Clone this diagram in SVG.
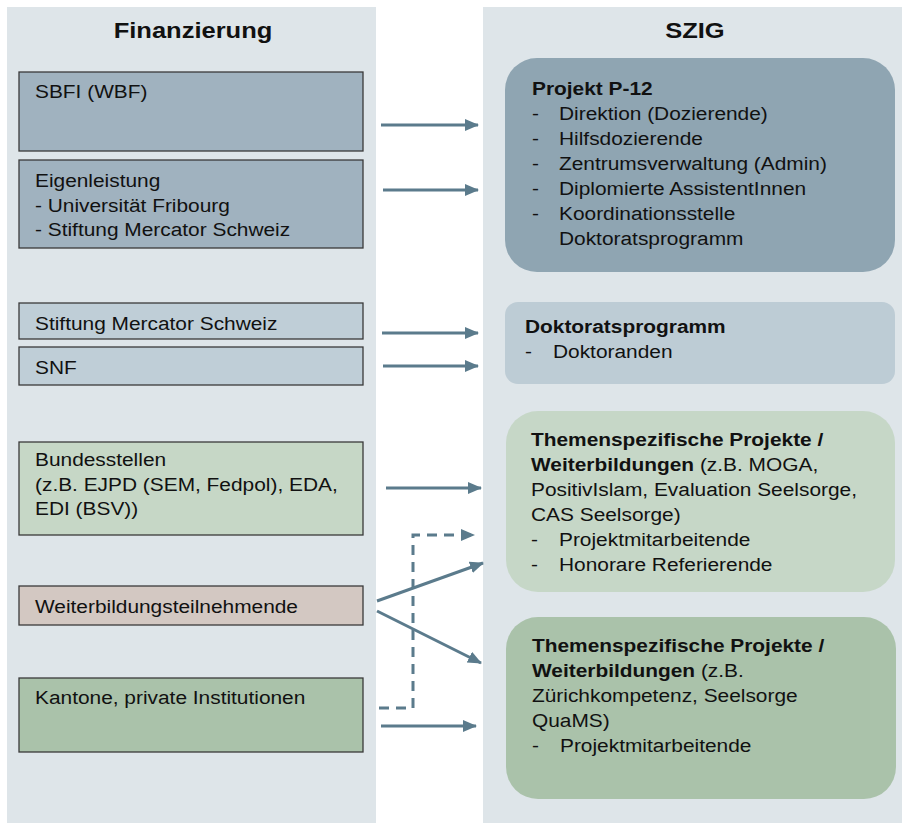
<svg xmlns="http://www.w3.org/2000/svg" width="902" height="823" viewBox="0 0 902 823">
<style>
  .panel { fill: #DEE5E9; }
  .box { stroke: #3a3a3a; stroke-width: 1.3; }
  text { font-family: "Liberation Sans", Arial, sans-serif; font-size: 18px; fill: #111; }
  .hdr { font-size: 22px; font-weight: bold; text-anchor: middle; }
  .b { font-weight: bold; }
  .conn { stroke: #5B7B8C; stroke-width: 3; fill: none; }
  .dash { stroke-dasharray: 10 7; }
</style>
<defs>
  <marker id="ah" markerUnits="userSpaceOnUse" markerWidth="16" markerHeight="14" refX="13" refY="6" orient="auto">
    <path d="M0,0 L14,6 L0,12 Z" fill="#5B7B8C"/>
  </marker>
</defs>
<rect width="902" height="823" fill="#ffffff"/>
<rect class="panel" x="7" y="7" width="369" height="816"/>
<rect class="panel" x="483" y="7" width="419" height="816"/>
<g transform="scale(1.16 1)">
  <text class="hdr" x="166.4" y="38">Finanzierung</text>
  <text class="hdr" x="599.1" y="38">SZIG</text>
</g>

<g id="sbfi">
  <rect class="box" x="19" y="72" width="344" height="79" fill="#A0B2BF"/>
  <g transform="scale(1.16 1)"><text x="30.17" y="98">SBFI (WBF)</text></g>
</g>
<g id="eigenleistung">
  <rect class="box" x="19" y="160" width="344" height="88" fill="#A0B2BF"/>
  <g transform="scale(1.16 1)">
    <text x="30.17" y="187">Eigenleistung</text>
    <text x="30.17" y="212">- Universität Fribourg</text>
    <text x="30.17" y="236">- Stiftung Mercator Schweiz</text>
  </g>
</g>
<g id="mercator">
  <rect class="box" x="19" y="303" width="344" height="36" fill="#BFCED7"/>
  <g transform="scale(1.16 1)"><text x="30.17" y="330">Stiftung Mercator Schweiz</text></g>
</g>
<g id="snf">
  <rect class="box" x="19" y="347" width="344" height="38" fill="#BFCED7"/>
  <g transform="scale(1.16 1)"><text x="30.17" y="374">SNF</text></g>
</g>
<g id="bundesstellen">
  <rect class="box" x="19" y="442" width="344" height="93" fill="#C6D7C6"/>
  <g transform="scale(1.16 1)">
    <text x="30.17" y="466">Bundesstellen</text>
    <text x="30.17" y="491">(z.B. EJPD (SEM, Fedpol), EDA,</text>
    <text x="30.17" y="515">EDI (BSV))</text>
  </g>
</g>
<g id="weiterbildungsteilnehmende">
  <rect class="box" x="19" y="586" width="344" height="39" fill="#D3C8C2"/>
  <g transform="scale(1.16 1)"><text x="30.17" y="613">Weiterbildungsteilnehmende</text></g>
</g>
<g id="kantone">
  <rect class="box" x="19" y="678" width="344" height="74" fill="#AAC2AA"/>
  <g transform="scale(1.16 1)"><text x="30.17" y="704">Kantone, private Institutionen</text></g>
</g>

<g id="projekt-p12">
  <rect x="505" y="58" width="390" height="214" rx="32" fill="#8FA5B2"/>
  <g transform="scale(1.16 1)">
    <text class="b" x="458.62" y="95">Projekt P-12</text>
    <text x="458.62" y="120">-</text><text x="481.9" y="120">Direktion (Dozierende)</text>
    <text x="458.62" y="145">-</text><text x="481.9" y="145">Hilfsdozierende</text>
    <text x="458.62" y="170">-</text><text x="481.9" y="170">Zentrumsverwaltung (Admin)</text>
    <text x="458.62" y="195">-</text><text x="481.9" y="195">Diplomierte AssistentInnen</text>
    <text x="458.62" y="220">-</text><text x="481.9" y="220">Koordinationsstelle</text>
    <text x="481.9" y="245">Doktoratsprogramm</text>
  </g>
</g>
<g id="doktoratsprogramm">
  <rect x="505" y="302" width="390" height="82" rx="13" fill="#BDCCD5"/>
  <g transform="scale(1.16 1)">
    <text class="b" x="452.59" y="333">Doktoratsprogramm</text>
    <text x="452.59" y="358">-</text><text x="476.72" y="358">Doktoranden</text>
  </g>
</g>
<g id="themen1">
  <rect x="506" y="411" width="389" height="181" rx="32" fill="#C6D7C7"/>
  <g transform="scale(1.16 1)">
    <text class="b" x="457.76" y="446">Themenspezifische Projekte /</text>
    <text x="457.76" y="471"><tspan class="b">Weiterbildungen</tspan> (z.B. MOGA,</text>
    <text x="457.76" y="496">PositivIslam, Evaluation Seelsorge,</text>
    <text x="457.76" y="521">CAS Seelsorge)</text>
    <text x="457.76" y="546">-</text><text x="481.9" y="546">Projektmitarbeitende</text>
    <text x="457.76" y="571">-</text><text x="481.9" y="571">Honorare Referierende</text>
  </g>
</g>
<g id="themen2">
  <rect x="506" y="617" width="390" height="182" rx="32" fill="#AAC2AA"/>
  <g transform="scale(1.16 1)">
    <text class="b" x="458.62" y="652">Themenspezifische Projekte /</text>
    <text x="458.62" y="677"><tspan class="b">Weiterbildungen</tspan> (z.B.</text>
    <text x="458.62" y="702">Zürichkompetenz, Seelsorge</text>
    <text x="458.62" y="727">QuaMS)</text>
    <text x="458.62" y="752">-</text><text x="482.76" y="752">Projektmitarbeitende</text>
  </g>
</g>

<g id="connectors">
  <line class="conn" x1="381" y1="125" x2="478" y2="125" marker-end="url(#ah)"/>
  <line class="conn" x1="383" y1="190" x2="478" y2="190" marker-end="url(#ah)"/>
  <line class="conn" x1="382" y1="333" x2="478" y2="333" marker-end="url(#ah)"/>
  <line class="conn" x1="383" y1="366" x2="478" y2="366" marker-end="url(#ah)"/>
  <line class="conn" x1="386" y1="488" x2="481" y2="488" marker-end="url(#ah)"/>
  <polyline class="conn dash" points="379,708 413,708 413,535 474,535" marker-end="url(#ah)"/>
  <line class="conn" x1="377" y1="601" x2="483" y2="563" marker-end="url(#ah)"/>
  <line class="conn" x1="377" y1="611" x2="481" y2="663" marker-end="url(#ah)"/>
  <line class="conn" x1="381" y1="726" x2="476" y2="726" marker-end="url(#ah)"/>
</g>
</svg>
